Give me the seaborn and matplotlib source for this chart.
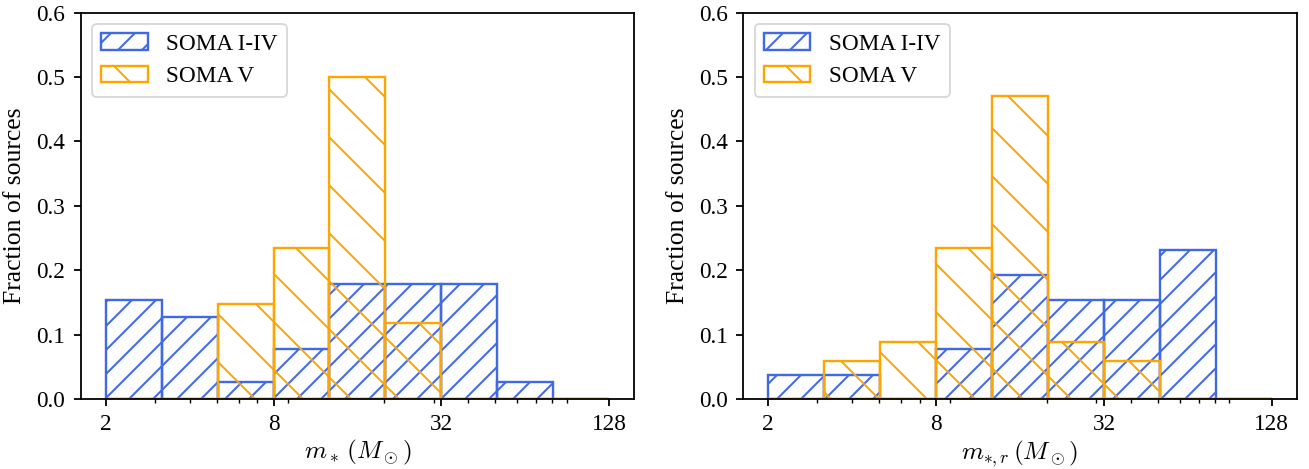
import numpy as np
import pandas as pd
import matplotlib
matplotlib.use("Agg")
import matplotlib.pyplot as plt
from matplotlib.ticker import FixedLocator, FixedFormatter, NullFormatter
import seaborn as sns

# Logarithmic mass bins: nine bins, three per factor of four, from 2 to 128 Msun
bin_edges = np.logspace(np.log10(2), np.log10(128), 10)

# Fraction of sources per bin
soma_i_iv_mstar = [0.154, 0.128, 0.026, 0.077, 0.179, 0.179, 0.179, 0.026, 0.0]
soma_v_mstar = [0.0, 0.0, 0.147, 0.235, 0.500, 0.118, 0.0, 0.0, 0.0]
soma_i_iv_mstar_r = [0.038, 0.038, 0.0, 0.077, 0.192, 0.154, 0.154, 0.231, 0.0]
soma_v_mstar_r = [0.0, 0.059, 0.088, 0.235, 0.471, 0.088, 0.059, 0.0, 0.0]

series_labels = ["SOMA I-IV", "SOMA V"]
x_labels = [r"$m_*\,(M_\odot)$", r"$m_{*,r}\,(M_\odot)$"]
y_label = "Fraction of sources"
x_tick_values = [2, 8, 32, 128]
x_tick_labels = ["2", "8", "32", "128"]
y_tick_values = [0.0, 0.1, 0.2, 0.3, 0.4, 0.5, 0.6]
y_tick_labels = ["0.0", "0.1", "0.2", "0.3", "0.4", "0.5", "0.6"]

DPI = 288
plt.rcParams.update({
    "font.family": ["Liberation Serif", "DejaVu Serif"],
    "mathtext.fontset": "cm",
    "font.size": 5.8,
    "axes.linewidth": 0.45,
    "xtick.major.width": 0.45,
    "ytick.major.width": 0.45,
    "xtick.minor.width": 0.35,
    "xtick.major.size": 1.8,
    "ytick.major.size": 1.8,
    "xtick.minor.size": 1.0,
    "xtick.major.pad": 2.0,
    "ytick.major.pad": 2.0,
    "hatch.linewidth": 0.5,
    "legend.fontsize": 5.8,
    "patch.linewidth": 0.45,
})

blue = "#4169E1"
orange = "#FFA500"

fig, axes = plt.subplots(1, 2, figsize=(1309 / DPI, 469 / DPI), dpi=DPI)
fig.subplots_adjust(left=0.0615, right=0.9908, bottom=0.1493, top=0.9733,
                    wspace=0.1964)

centers = np.sqrt(bin_edges[:-1] * bin_edges[1:])
log_bins = [float(v) for v in np.log10(bin_edges)]
panels = [
    (soma_i_iv_mstar, soma_v_mstar),
    (soma_i_iv_mstar_r, soma_v_mstar_r),
]

for ax, (blue_vals, orange_vals), xlab in zip(axes, panels, x_labels):
    for vals, color, hatch, lab in [
        (blue_vals, blue, "////", series_labels[0]),
        (orange_vals, orange, "\\\\", series_labels[1]),
    ]:
        df = pd.DataFrame({"mass": centers, "frac": vals})
        sns.histplot(data=df, x="mass", weights="frac", bins=log_bins,
                     log_scale=True, element="bars", fill=False, stat="count",
                     color=color, edgecolor=color, hatch=hatch, linewidth=0.6,
                     label=lab, ax=ax)

    ax.set_xlim(2 / 2 ** 0.3, 128 * 2 ** 0.3)
    ax.set_ylim(0, 0.6)
    ax.xaxis.set_major_locator(FixedLocator(x_tick_values))
    ax.xaxis.set_major_formatter(FixedFormatter(x_tick_labels))
    ax.xaxis.set_minor_formatter(NullFormatter())
    ax.set_yticks(y_tick_values)
    ax.set_yticklabels(y_tick_labels)
    ax.set_xlabel(xlab, fontsize=6.3, labelpad=0.8)
    ax.set_ylabel(y_label, fontsize=6.4, labelpad=2.5)
    for s in ax.spines.values():
        s.set_visible(True)
        s.set_color("black")
    ax.legend(loc="upper left", frameon=True, borderaxespad=0.5)

fig.savefig("out.png", dpi=DPI)
